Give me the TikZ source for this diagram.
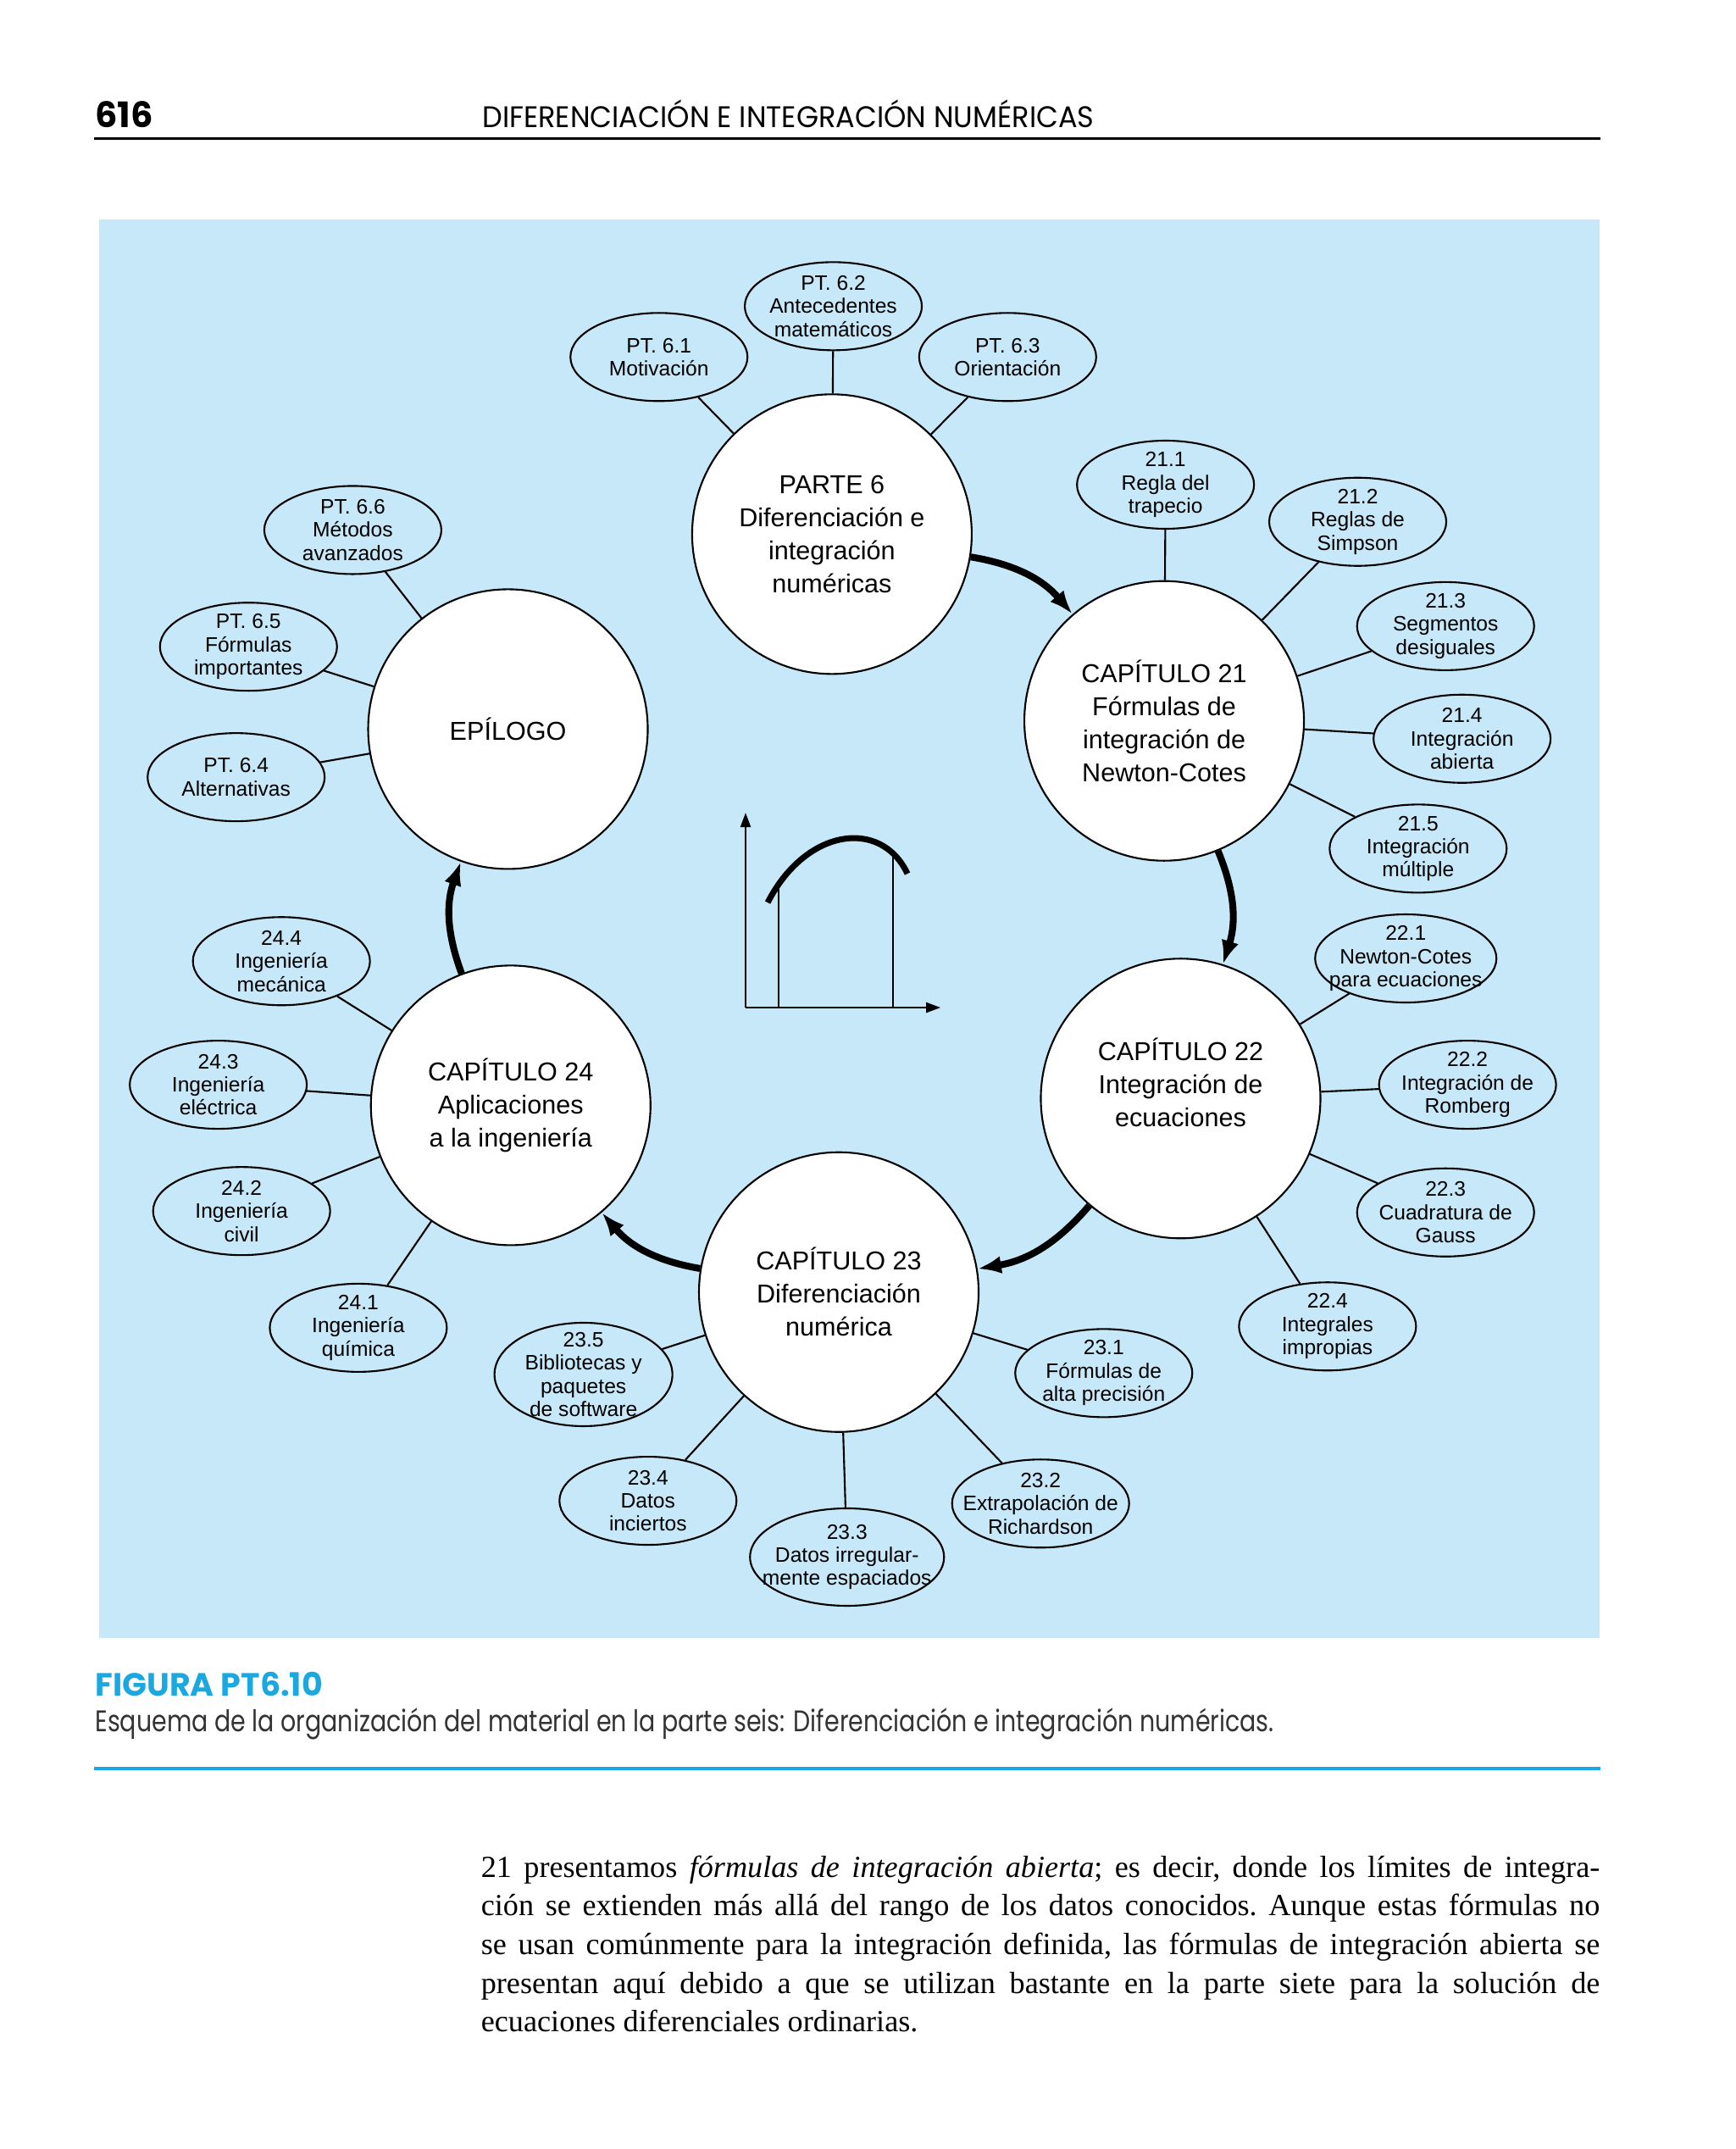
\documentclass[tikz,border=0pt]{standalone}
\usepackage{fontspec}
\setmainfont{Liberation Serif}
\newfontfamily\diagfont{Liberation Sans}
\newfontfamily\cabfont[FakeStretch=0.955]{Poppins}
\newfontfamily\leyfont{Poppins}
\newfontfamily\leyfontc[FakeStretch=0.81]{Poppins}
\usetikzlibrary{shapes.geometric}
\usetikzlibrary{arrows.meta}
\definecolor{fondo}{RGB}{198,232,248}
\definecolor{figcyan}{RGB}{27,167,224}
\newcommand{\capdiam}{3.3cm}
\newcommand{\temaw}{2.09cm}
\newcommand{\temah}{1.04cm}
\newcommand{\lineaw}{375.7pt}
\newcommand{\capfnt}{\diagfont\fontsize{8.7}{11.1}\selectfont}
\newcommand{\temafnt}{\diagfont\fontsize{7}{7.8}\selectfont}
\newcommand{\linea}[1]{\makebox[\lineaw][s]{#1}}

\begin{document}
\begin{tikzpicture}[x=0.16203mm,y=-0.16203mm,
    capitulo/.style={circle,draw,fill=white,line width=0.6pt,
      minimum size=\capdiam,inner sep=0pt,align=center,font=\capfnt},
    tema/.style={ellipse,draw,line width=0.6pt,minimum width=\temaw,
      minimum height=\temah,inner xsep=-0.3cm,inner ysep=-0.15cm,
      align=center,font=\temafnt},
    enlace/.style={line width=0.6pt},
    flujo/.style={line width=2.3pt,-{Latex[length=2.8mm,width=2.1mm]},
      bend left=20},
    eje/.style={line width=0.6pt,-{Triangle[length=1.7mm,width=1.2mm]}}]
  \useasboundingbox (0,0) rectangle (1264,1565.1);

  \node[anchor=base west,inner sep=0pt,
    font=\leyfont\bfseries\fontsize{11.8}{13}\selectfont] (pagina)
    at (69,92.6) {616};
  \node[anchor=base west,inner sep=0pt,
    font=\cabfont\fontsize{10}{12}\selectfont] (cabeza)
    at (351,92.6) {DIFERENCIACIÓN E INTEGRACIÓN NUMÉRICAS};
  \draw[line width=0.8pt] (68.5,101) -- (1166,101);

  \fill[fondo] (72,160) rectangle (1165,1193);

  \node[capitulo] (p6) at (606,389)
    {PARTE 6\\Diferenciación e\\integración\\numéricas};
  \node[capitulo] (c21) at (848,525)
    {CAPÍTULO 21\\Fórmulas de\\integración de\\Newton-Cotes};
  \node[capitulo] (c22) at (860,800)
    {CAPÍTULO 22\\Integración de\\ecuaciones\\\mbox{}};
  \node[capitulo] (c23) at (611,941)
    {CAPÍTULO 23\\Diferenciación\\numérica};
  \node[capitulo] (c24) at (372,805)
    {CAPÍTULO 24\\Aplicaciones\\a la ingeniería};
  \node[capitulo] (epi) at (370,531) {EPÍLOGO};

  \node[tema] (t61) at (480,260) {PT. 6.1\\Motivación};
  \node[tema] (t62) at (607,223) {PT. 6.2\\Antecedentes\\matemáticos};
  \node[tema] (t63) at (734,260) {PT. 6.3\\Orientación};

  \node[tema] (t211) at (849,353) {21.1\\Regla del\\trapecio};
  \node[tema] (t212) at (989,380) {21.2\\Reglas de\\Simpson};
  \node[tema] (t213) at (1053,456) {21.3\\Segmentos\\desiguales};
  \node[tema] (t214) at (1065,538) {21.4\\Integración\\abierta};
  \node[tema] (t215) at (1033,618) {21.5\\Integración\\múltiple};

  \node[tema,minimum width=2.14cm] (t221) at (1024,698)
    {22.1\\Newton-Cotes\\para ecuaciones};
  \node[tema] (t222) at (1069,790) {22.2\\Integración de\\Romberg};
  \node[tema] (t223) at (1053,883) {22.3\\Cuadratura de\\Gauss};
  \node[tema] (t224) at (967,966) {22.4\\Integrales\\impropias};

  \node[tema] (t231) at (804,1000) {23.1\\Fórmulas de\\alta precisión};
  \node[tema] (t232) at (758,1095) {23.2\\Extrapolación de\\Richardson};
  \node[tema,minimum width=2.29cm,minimum height=1.15cm] (t233)
    at (617,1134) {23.3\\Datos irregular-\\mente espaciados};
  \node[tema] (t234) at (472,1093) {23.4\\Datos\\inciertos};
  \node[tema,minimum width=2.1cm,minimum height=1.22cm] (t235)
    at (425,1001) {23.5\\Bibliotecas y\\paquetes\\de software};

  \node[tema] (t241) at (261,967) {24.1\\Ingeniería\\química};
  \node[tema] (t242) at (176,882) {24.2\\Ingeniería\\civil};
  \node[tema] (t243) at (159,790) {24.3\\Ingeniería\\eléctrica};
  \node[tema] (t244) at (205,700) {24.4\\Ingeniería\\mecánica};

  \node[tema] (t64) at (172,566) {PT. 6.4\\Alternativas};
  \node[tema] (t65) at (181,471) {PT. 6.5\\Fórmulas\\importantes};
  \node[tema] (t66) at (257,386) {PT. 6.6\\Métodos\\avanzados};

  \draw[enlace] (t61) -- (p6);
  \draw[enlace] (t62) -- (p6);
  \draw[enlace] (t63) -- (p6);
  \draw[enlace] (t211) -- (c21);
  \draw[enlace] (t212) -- (c21);
  \draw[enlace] (t213) -- (c21);
  \draw[enlace] (t214) -- (c21);
  \draw[enlace] (t215) -- (c21);
  \draw[enlace] (t221) -- (c22);
  \draw[enlace] (t222) -- (c22);
  \draw[enlace] (t223) -- (c22);
  \draw[enlace] (t224) -- (c22);
  \draw[enlace] (t231) -- (c23);
  \draw[enlace] (t232) -- (c23);
  \draw[enlace] (t233) -- (c23);
  \draw[enlace] (t234) -- (c23);
  \draw[enlace] (t235) -- (c23);
  \draw[enlace] (t241) -- (c24);
  \draw[enlace] (t242) -- (c24);
  \draw[enlace] (t243) -- (c24);
  \draw[enlace] (t244) -- (c24);
  \draw[enlace] (t64) -- (epi);
  \draw[enlace] (t65) -- (epi);
  \draw[enlace] (t66) -- (epi);

  \draw[flujo] (p6) to (c21);
  \draw[flujo] (c21) to (c22);
  \draw[flujo] (c22) to (c23);
  \draw[flujo] (c23) to (c24);
  \draw[flujo] (c24) to (epi);

  \coordinate (origen) at (543.1,733.8);
  \coordinate (ytope) at (543.1,591.9);
  \coordinate (xtope) at (685.1,733.8);
  \coordinate (apie) at (567.2,733.8);
  \coordinate (bpie) at (650.5,733.8);
  \coordinate (acima) at (567.2,644);
  \coordinate (bcima) at (650.5,623);
  \draw[eje] (origen) -- (ytope);
  \draw[eje] (origen) -- (xtope);
  \draw[line width=0.6pt] (apie) -- (acima);
  \draw[line width=0.6pt] (bpie) -- (bcima);
  \draw[line width=2pt] (559.2,657.3)
    .. controls (587,603) and (641.9,595.6) .. (661,636.3);

  \node[anchor=base west,inner sep=0pt,text=figcyan,
    font=\leyfont\bfseries\fontsize{10.8}{12}\selectfont] (figura)
    at (69,1235.4) {FIGURA PT6.10};
  \node[anchor=base west,inner sep=0pt,text=black!80,
    font=\leyfontc\fontsize{10}{12}\selectfont] (leyenda) at (69,1261)
    {Esquema de la organización del material en la parte seis: Diferenciación e integración numéricas.};
  \draw[figcyan,line width=1.1pt] (68.5,1288) -- (1166,1288);

  \node[anchor=base west,inner sep=0pt] (texto) at (350,1367)
    {\parbox[t]{\lineaw}{\fontsize{10.3}{13}\selectfont\frenchspacing
      \linea{21 presentamos \textit{fórmulas de integración abierta}; es decir, donde los límites de integra-}\\
      \linea{ción se extienden más allá del rango de los datos conocidos. Aunque estas fórmulas no}\\
      \linea{se usan comúnmente para la integración definida, las fórmulas de integración abierta se}\\
      \linea{presentan aquí debido a que se utilizan bastante en la parte siete para la solución de}\\
      ecuaciones diferenciales ordinarias.}};
\end{tikzpicture}
\end{document}
